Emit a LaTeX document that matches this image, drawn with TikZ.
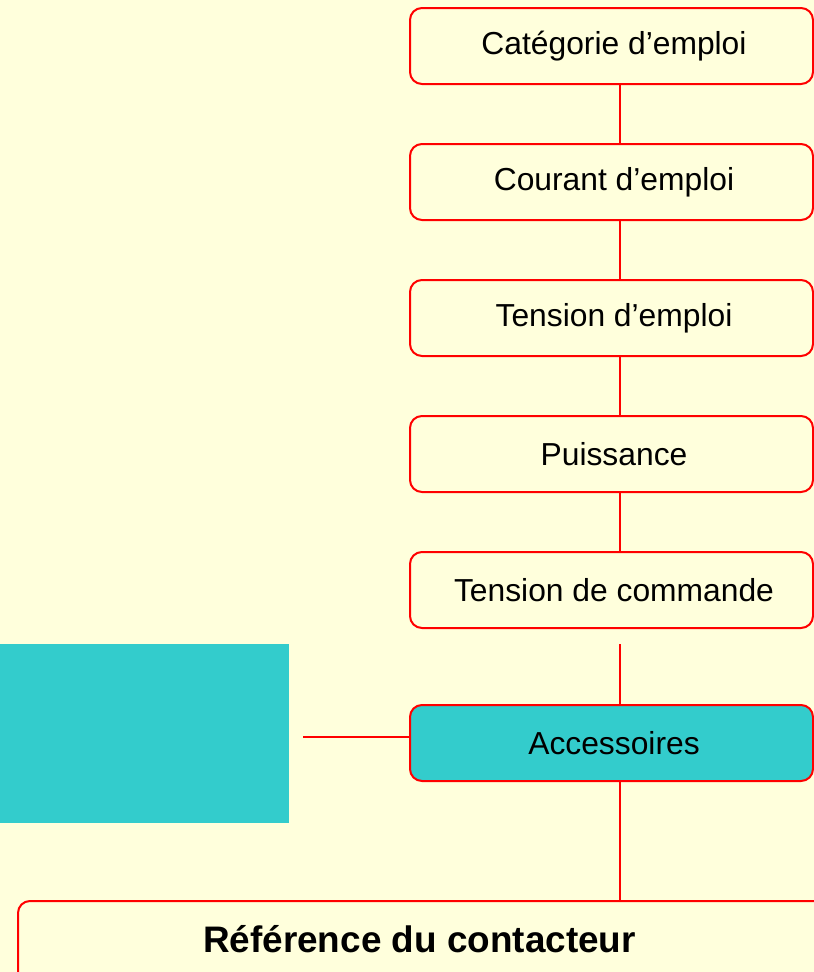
\documentclass[tikz,border=0pt]{standalone}
\usepackage{fontspec}
\setmainfont{Liberation Sans}
\definecolor{bgyellow}{HTML}{FFFFDC}
\definecolor{cyanbox}{HTML}{33CCCC}
\definecolor{linered}{HTML}{FF0000}
\tikzset{
  stepbox/.style={draw=linered, line width=2pt, rounded corners=12pt, fill=bgyellow,
    minimum width=403pt, minimum height=76pt, inner sep=0pt,
    font=\fontsize{31.8}{36}\selectfont, text=black},
  link/.style={draw=linered, line width=2pt},
}
\begin{document}
\begin{tikzpicture}[x=1pt,y=-1pt]
\useasboundingbox (0,0) rectangle (814,972);
\clip (0,0) rectangle (814,972);
\fill[bgyellow] (0,0) rectangle (814,972);

\node[stepbox] (b1) at (611.5,46) {\hspace*{5pt}Catégorie d’emploi};
\node[stepbox] (b2) at (611.5,182) {\hspace*{5pt}Courant d’emploi};
\node[stepbox] (b3) at (611.5,318) {\hspace*{5pt}Tension d’emploi};
\node[stepbox] (b4) at (611.5,454) {\hspace*{5pt}Puissance};
\node[stepbox] (b5) at (611.5,590) {\hspace*{5pt}Tension de commande};
\node[stepbox, fill=cyanbox] (acc) at (611.5,743) {\hspace*{5pt}Accessoires};
\node[stepbox, minimum width=820pt, minimum height=120pt, anchor=north west] (ref) at (17,900) {};
\node[font=\fontsize{36.9}{42}\selectfont\bfseries, anchor=base] (reftext) at (419.5,952) {Référence du contacteur};

\fill[cyanbox] (0,644) rectangle (289,823);

\coordinate (gap) at (620,644);
\coordinate (side) at (303,737);

\draw[link] ([xshift=8.5pt]b1.south) -- ([xshift=8.5pt]b2.north);
\draw[link] ([xshift=8.5pt]b2.south) -- ([xshift=8.5pt]b3.north);
\draw[link] ([xshift=8.5pt]b3.south) -- ([xshift=8.5pt]b4.north);
\draw[link] ([xshift=8.5pt]b4.south) -- ([xshift=8.5pt]b5.north);
\draw[link] (gap) -- ([xshift=8.5pt]acc.north);
\draw[link] (side) -- (side -| acc.west);
\draw[link] ([xshift=8.5pt]acc.south) -- ([xshift=8.5pt]acc.south |- ref.north);
\end{tikzpicture}
\end{document}
